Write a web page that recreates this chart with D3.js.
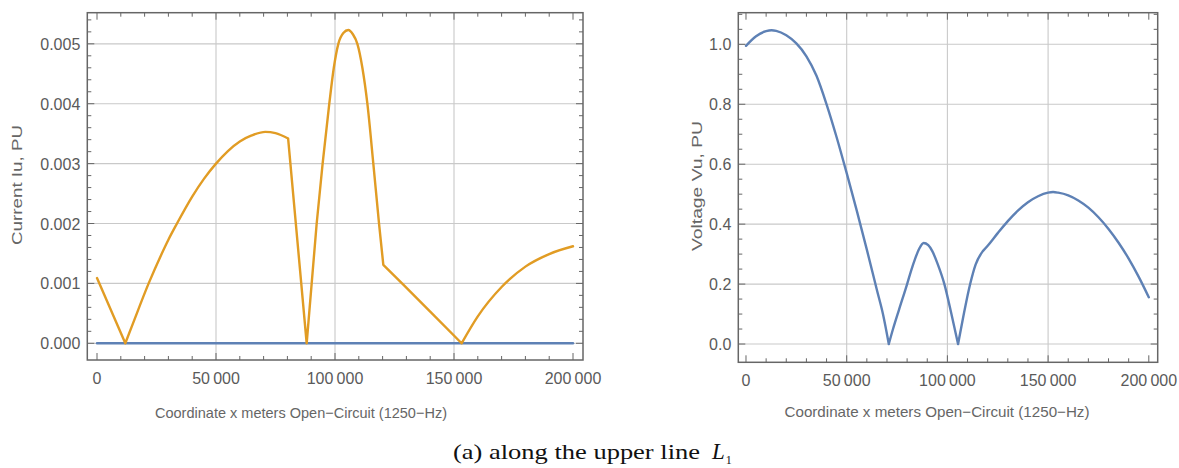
<!DOCTYPE html>
<html>
<head>
<meta charset="utf-8">
<script src="https://cdn.jsdelivr.net/npm/d3@7"></script>
<style>
  html, body { margin: 0; padding: 0; background: #fff; }
  svg { display: block; }
</style>
</head>
<body>
<svg id="chart" width="1179" height="468"></svg>
<script>
// ---------------- DATA ----------------
const xTicks = [0, 50000, 100000, 150000, 200000];
const xTickLabels = ["0", "50\u2009000", "100\u2009000", "150\u2009000", "200\u2009000"];

const currentYTicks = [0, 0.001, 0.002, 0.003, 0.004, 0.005];
const currentYTickLabels = ["0.000", "0.001", "0.002", "0.003", "0.004", "0.005"];

const voltageYTicks = [0, 0.2, 0.4, 0.6, 0.8, 1.0];
const voltageYTickLabels = ["0.0", "0.2", "0.4", "0.6", "0.8", "1.0"];

// Current |Iu| along the line (orange)
const currentX = [0, 11900, 15000, 21700, 27000, 30000, 33600, 40000, 45000, 50000, 55000, 60000, 65000, 70700, 75000, 80300,
  88100, 92300, 94800, 97600, 99500, 101400, 103500, 105600, 107500, 109400, 111500, 113600, 116100, 118500, 120300,
  128700, 140000, 153200, 160000, 170000, 180000, 190000, 200000];
const currentIu = [0.00109, 0, 0.00032, 0.001, 0.00148, 0.00173, 0.002, 0.00245, 0.00275, 0.003, 0.00321, 0.00337, 0.00347, 0.00353, 0.00351, 0.00342,
  0, 0.002, 0.003, 0.004, 0.0046, 0.005, 0.00518, 0.00523, 0.00516, 0.005, 0.0046, 0.004, 0.003, 0.002, 0.00131,
  0.00098, 0.00053, 0, 0.00045, 0.00094, 0.00128, 0.00149, 0.00162];
// corners of the current curve (zeros and kinks)
const currentCorners = [11900, 80300, 88100, 120300, 153200];

// Second (blue) series in the current panel
const currentBlueX = [0, 200000];
const currentBlue = [0, 0];

// Voltage |Vu| along the line (blue)
const voltageX = [0, 5000, 10000, 12700, 15000, 20000, 25000, 30000, 35000, 40000, 45000, 50000, 55000, 60000, 65000, 68000, 70900,
  73000, 76000, 80000, 82000, 84000, 86000, 88200, 90500, 92500, 95000, 98500, 102000, 105300,
  108000, 111300, 114000, 117600, 120000, 125000, 130000, 135000, 140000, 145000, 150000, 152500, 155000, 160000, 165000, 170000,
  175000, 180000, 185000, 190000, 195000, 200000];
const voltageVu = [0.995, 1.027, 1.044, 1.047, 1.045, 1.030, 1.003, 0.96, 0.895, 0.80, 0.69, 0.57, 0.445, 0.315, 0.18, 0.1, 0.0,
  0.05, 0.115, 0.2, 0.245, 0.285, 0.318, 0.337, 0.33, 0.31, 0.27, 0.2, 0.1, 0.0,
  0.095, 0.2, 0.265, 0.31, 0.328, 0.37, 0.41, 0.445, 0.473, 0.493, 0.505, 0.507, 0.505, 0.496, 0.479, 0.455,
  0.423, 0.384, 0.338, 0.285, 0.224, 0.156];
const voltageCorners = [70900, 105300, 117600];

const xLabelText = "Coordinate x  meters  Open\u2212Circuit (1250\u2212Hz)";
const xLabelText2 = "Coordinate x  meters Open\u2212Circuit (1250\u2212Hz)";

// ---------------- DRAWING ----------------
const svg = d3.select("#chart");
const ORANGE = "#E19C24", BLUE = "#5E81B5";
const FRAME = "#666", GRID = "#c9c9c9", TXT = "#5a5a5a";
const FONT = "Liberation Sans, Arial, sans-serif";

function hText(g, x, y, str, anchor, size, color, len) {
  const t = g.append("text")
    .attr("x", x).attr("y", y)
    .attr("text-anchor", anchor)
    .attr("font-family", FONT)
    .attr("font-size", size)
    .attr("fill", color)
    .text(str);
  if (len) t.attr("textLength", len).attr("lengthAdjust", "spacingAndGlyphs");
  return t;
}

// split a series into smooth pieces at corner x-values
function pieces(xs, ys, corners) {
  const pts = d3.zip(xs, ys);
  const out = [];
  let cur = [];
  pts.forEach(p => {
    cur.push(p);
    if (corners.includes(p[0])) { out.push(cur); cur = [p]; }
  });
  if (cur.length > 1) out.push(cur);
  return out;
}

function panel(opts) {
  const { left, right, top, bottom, xDomain, yDomain, yTicks, yTickLabels, yMinorStep, series, yLabel, yLabelX, yLabelY, yLabelLen, xLabel, xLabelX, xLabelY, xLabelLen } = opts;
  const g = svg.append("g");
  const x = d3.scaleLinear().domain(xDomain).range([left, right]);
  const y = d3.scaleLinear().domain(yDomain).range([bottom, top]);

  // grid
  g.selectAll(".gx").data(xTicks.filter(t => t > 0 && t < 200000)).enter().append("line")
    .attr("x1", d => x(d)).attr("x2", d => x(d)).attr("y1", top).attr("y2", bottom)
    .attr("stroke", GRID).attr("stroke-width", 1.1);
  g.selectAll(".gy").data(yTicks).enter().append("line")
    .attr("x1", left).attr("x2", right).attr("y1", d => y(d)).attr("y2", d => y(d))
    .attr("stroke", GRID).attr("stroke-width", 1.1);

  // series
  const line = d3.line().x(d => x(d[0])).y(d => y(d[1])).curve(d3.curveMonotoneX);
  series.forEach(s => {
    const d = pieces(s.x, s.y, s.corners || []).map(p => line(p)).join("");
    g.append("path").attr("d", d).attr("fill", "none")
      .attr("stroke", s.color).attr("stroke-width", 2.4)
      .attr("stroke-linejoin", "round").attr("stroke-linecap", "round");
  });

  // ticks (inward, on all four sides)
  const xMinor = d3.range(0, 200001, 10000);
  const yMinor = d3.range(0, yDomain[1] + 1e-12, yMinorStep);
  const isMajX = t => t % 50000 === 0;
  const isMajY = t => yTicks.some(v => Math.abs(v - t) < yMinorStep / 10);
  xMinor.forEach(t => {
    const L = isMajX(t) ? 7 : 4;
    g.append("line").attr("x1", x(t)).attr("x2", x(t)).attr("y1", bottom).attr("y2", bottom - L).attr("stroke", FRAME).attr("stroke-width", 1);
    g.append("line").attr("x1", x(t)).attr("x2", x(t)).attr("y1", top).attr("y2", top + L).attr("stroke", FRAME).attr("stroke-width", 1);
  });
  yMinor.forEach(t => {
    const L = isMajY(t) ? 7 : 4;
    g.append("line").attr("x1", left).attr("x2", left + L).attr("y1", y(t)).attr("y2", y(t)).attr("stroke", FRAME).attr("stroke-width", 1);
    g.append("line").attr("x1", right).attr("x2", right - L).attr("y1", y(t)).attr("y2", y(t)).attr("stroke", FRAME).attr("stroke-width", 1);
  });

  // frame
  g.append("rect").attr("x", left).attr("y", top).attr("width", right - left).attr("height", bottom - top)
    .attr("fill", "none").attr("stroke", FRAME).attr("stroke-width", 1.5);

  // tick labels
  xTicks.forEach((t, i) => hText(g, x(t), bottom + 24, xTickLabels[i], "middle", 16, TXT));
  yTicks.forEach((t, i) => hText(g, left - 7, y(t) + 6, yTickLabels[i], "end", 16, TXT));

  // axis labels
  hText(g, xLabelX, xLabelY, xLabel, "middle", 15, "#666", xLabelLen);
  g.append("text")
    .attr("transform", `translate(${yLabelX},${yLabelY}) rotate(-90)`)
    .attr("text-anchor", "middle")
    .attr("font-family", FONT)
    .attr("font-size", 15).attr("fill", "#666")
    .attr("textLength", yLabelLen).attr("lengthAdjust", "spacingAndGlyphs")
    .text(yLabel);
}

panel({
  left: 87.3, right: 583, top: 12.7, bottom: 360,
  xDomain: [-4076, 204200], yDomain: [-0.000279, 0.00552],
  yTicks: currentYTicks, yTickLabels: currentYTickLabels, yMinorStep: 0.0002,
  series: [{ x: currentBlueX, y: currentBlue, color: BLUE }, { x: currentX, y: currentIu, color: ORANGE, corners: currentCorners }],
  yLabel: "Current Iu,  PU", yLabelX: 22, yLabelY: 185, yLabelLen: 120,
  xLabel: xLabelText, xLabelX: 301, xLabelY: 418, xLabelLen: 292
});

panel({
  left: 738.3, right: 1157.7, top: 12.7, bottom: 362.3,
  xDomain: [-3823, 204420], yDomain: [-0.061, 1.1055],
  yTicks: voltageYTicks, yTickLabels: voltageYTickLabels, yMinorStep: 0.05,
  series: [{ x: voltageX, y: voltageVu, color: BLUE, corners: voltageCorners }],
  yLabel: "Voltage  Vu,  PU", yLabelX: 702, yLabelY: 186, yLabelLen: 130,
  xLabel: xLabelText2, xLabelX: 937, xLabelY: 417, xLabelLen: 305
});

// caption
const cap = svg.append("text")
  .attr("y", 459)
  .attr("font-family", "Liberation Serif, Times New Roman, serif")
  .attr("font-size", 21).attr("fill", "#111");
cap.append("tspan").attr("x", 453).attr("textLength", 247).attr("lengthAdjust", "spacingAndGlyphs").text("(a) along the upper line");
cap.append("tspan").attr("x", 712).attr("font-style", "italic").attr("font-size", 23).text("L");
cap.append("tspan").attr("font-size", 12).attr("dx", 1).attr("dy", 5).text("1");
</script>
</body>
</html>
